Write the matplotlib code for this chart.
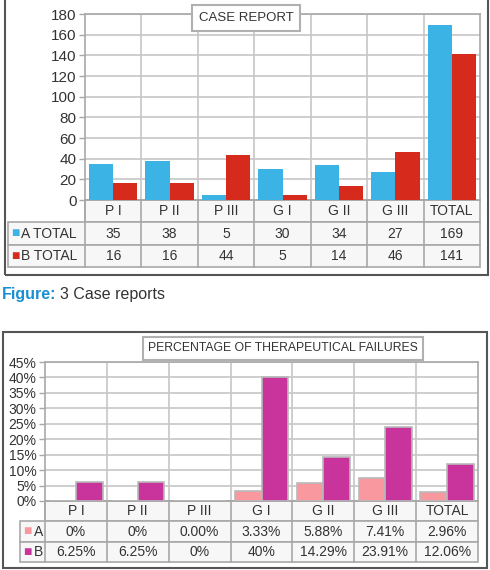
import numpy as np
import matplotlib.pyplot as plt
from matplotlib.patches import Rectangle
from matplotlib.transforms import blended_transform_factory
from matplotlib.ticker import FuncFormatter

plt.rcParams['font.family'] = ['Liberation Sans', 'DejaVu Sans']

# datos
categorias = ["P I", "P II", "P III", "G I", "G II", "G III", "TOTAL"]
a_total = [35, 38, 5, 30, 34, 27, 169]
b_total = [16, 16, 44, 5, 14, 46, 141]
pct_a = [0.0, 0.0, 0.0, 3.33, 5.88, 7.41, 2.96]
pct_b = [6.25, 6.25, 0.0, 40.0, 14.29, 23.91, 12.06]
pct_a_txt = ["0%", "0%", "0.00%", "3.33%", "5.88%", "7.41%", "2.96%"]
pct_b_txt = ["6.25%", "6.25%", "0%", "40%", "14.29%", "23.91%", "12.06%"]

W, H = 490, 570
fig = plt.figure(figsize=(W / 100, H / 100), dpi=100)

GRID = "#c6c6c6"
LINE = "#a8a8a8"
TXT = "#333333"


def fx(x):
    return x / W


def fy(y):
    return 1 - y / H


def marco(x0, y0, x1, y1):
    fig.patches.append(Rectangle((fx(x0), fy(y1)), fx(x1) - fx(x0), fy(y0) - fy(y1),
                                 transform=fig.transFigure, fill=False,
                                 edgecolor="#555555", lw=1.5))


def grafico(ax, va, vb, ta, tb, ca, cb, ymax, paso, etiq_a, etiq_b, izq, filas_h,
            tick_fs, tabla_fs, borde=None):
    x = np.arange(len(categorias))
    w = 0.43
    kw = dict(edgecolor=borde, linewidth=1.2) if borde else dict(linewidth=0)
    ax.bar(x - w / 2, va, w, color=ca, zorder=3, **kw)
    ax.bar(x + w / 2, vb, w, color=cb, zorder=3, **kw)
    ax.set_xlim(-0.5, len(categorias) - 0.5)
    ax.set_ylim(0, ymax)
    ax.set_yticks(np.arange(0, ymax + paso / 2, paso))
    ax.set_xticks([])
    ax.grid(axis="y", color=GRID, lw=1.2, zorder=0)
    for b in np.arange(0.5, len(categorias) - 0.5):
        ax.axvline(b, color=GRID, lw=1.2, zorder=1)
    for s in ax.spines.values():
        s.set_color(LINE)
        s.set_linewidth(1.2)
    ax.tick_params(axis="y", colors=TXT, labelsize=tick_fs, length=4, width=1, color=LINE, pad=2)

    # tabla bajo el eje
    tr = blended_transform_factory(ax.transData, ax.transAxes)
    n = len(categorias)
    y0 = 0
    filas = [(None, categorias, None), (etiq_a, ta, ca), (etiq_b, tb, cb)]
    for k, (lab, vals, col) in enumerate(filas):
        h = filas_h[k]
        ytop, ybot = y0, y0 - h
        xl = -0.5 if lab is None else izq
        ax.add_patch(Rectangle((xl, ybot), (n - 0.5) - xl, h, transform=tr, clip_on=False,
                               facecolor="#f7f7f7", edgecolor=LINE, lw=1.2, zorder=2))
        for b in np.arange(-0.5, n - 0.5):
            ax.plot([b, b], [ybot, ytop], transform=tr, clip_on=False, color=LINE, lw=1.2, zorder=3)
        for i, v in enumerate(vals):
            ax.text(i, (ytop + ybot) / 2, v, transform=tr, ha="center", va="center",
                    fontsize=tabla_fs, color=TXT, clip_on=False)
        if lab is not None:
            ax.text(izq + 0.05, (ytop + ybot) / 2, "\u25a0", transform=tr, ha="left", va="center",
                    fontsize=10, color=col, clip_on=False)
            ax.text(izq + 0.22, (ytop + ybot) / 2, lab, transform=tr, ha="left", va="center",
                    fontsize=tabla_fs, color=TXT, clip_on=False)
        y0 = ybot


# grafico superior
marco(5, -3, 488, 275)
ax1 = fig.add_axes([fx(85), fy(200), fx(480) - fx(85), fy(14) - fy(200)])
h1 = 186
grafico(ax1, a_total, b_total, [str(v) for v in a_total], [str(v) for v in b_total],
        "#3bb4e5", "#d52a1c", 180, 20, "A TOTAL", "B TOTAL",
        -1.86, [22 / h1, 23 / h1, 22 / h1], 11, 10)
fig.text(fx(246), fy(18), "CASE REPORT", ha="center", va="center", fontsize=9.5, color=TXT,
         bbox=dict(boxstyle="square,pad=0.5", facecolor="white", edgecolor="#b0b0b0", lw=1.5))

# pie de figura
fig.text(fx(2), fy(294), "Figure:", ha="left", va="center", fontsize=11.5, fontweight="bold",
         color="#1b8fd0")
fig.text(fx(60), fy(294), "3 Case reports", ha="left", va="center", fontsize=11.5, color="#333333")

# grafico inferior
marco(3, 332, 487, 568)
ax2 = fig.add_axes([fx(45), fy(501), fx(478) - fx(45), fy(362) - fy(501)])
h2 = 139
grafico(ax2, pct_a, pct_b, pct_a_txt, pct_b_txt, "#f9999f", "#c9349c", 45, 5, "A", "B",
        -0.9, [20 / h2, 21 / h2, 20 / h2], 10, 10, borde="#b9b9b9")
ax2.yaxis.set_major_formatter(FuncFormatter(lambda v, p: f"{v:.0f}%"))
fig.text(fx(283), fy(348), "PERCENTAGE OF THERAPEUTICAL FAILURES", ha="center", va="center",
         fontsize=8.8, color=TXT,
         bbox=dict(boxstyle="square,pad=0.45", facecolor="white", edgecolor="#b0b0b0", lw=1.5))

fig.savefig("out.png", dpi=100)
